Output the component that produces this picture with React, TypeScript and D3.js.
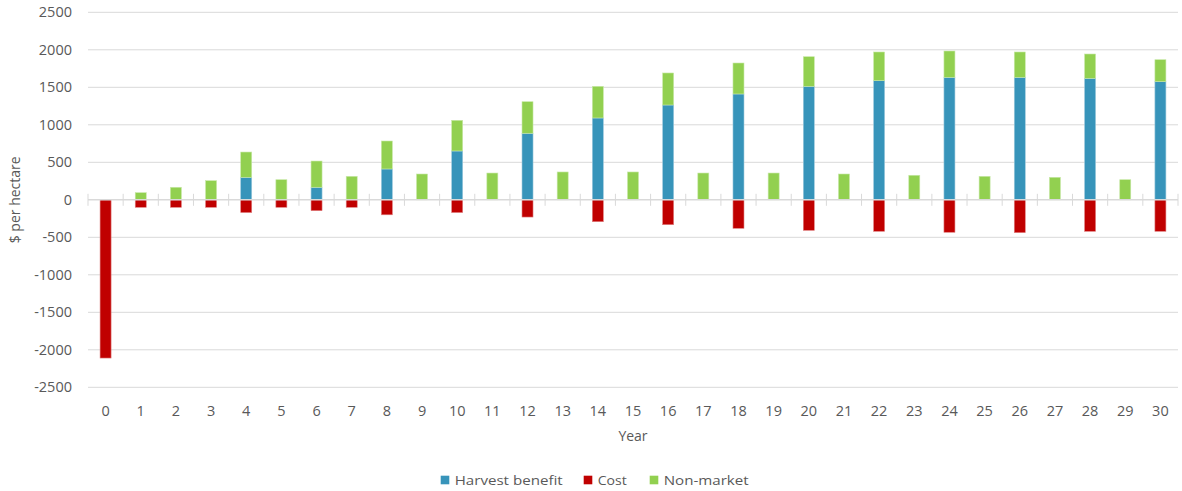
import React from "react";
import * as d3 from "d3";

const years = d3.range(0, 31).map(String);
const harvest = [0, 0, 0, 0, 300, 0, 167, 0, 411, 0, 651, 0, 887, 0, 1091, 0, 1264, 0, 1411, 0, 1513, 0, 1588, 0, 1633, 0, 1633, 0, 1620, 0, 1575];
const nonMarket = [0, 95, 167, 255, 337, 268, 350, 313, 373, 344, 409, 357, 421, 371, 422, 371, 427, 357, 413, 357, 395, 344, 383, 327, 351, 313, 338, 300, 324, 268, 293];
const cost = [-2110, -100, -100, -100, -170, -100, -145, -100, -200, 0, -170, 0, -230, 0, -292, 0, -332, 0, -380, 0, -407, 0, -420, 0, -433, 0, -438, 0, -420, 0, -420];
const yTicks = [-2500, -2000, -1500, -1000, -500, 0, 500, 1000, 1500, 2000, 2500];
const seriesNames = ["Harvest benefit", "Cost", "Non-market"];
const colors = ["#3794BA", "#C00000", "#92D050"];

const W = 1182, H = 491;
const left = 88, right = 1178, top = 12.3, bottom = 387.3;
const font = "'Open Sans', sans-serif";

export default function App() {
  const x = d3.scaleBand<string>().domain(years).range([left, right]).paddingInner(0.687).paddingOuter(0.3435);
  const xb = d3.scaleLinear().domain([0, years.length]).range([left, right]);
  const y = d3.scaleLinear().domain([-2500, 2500]).range([bottom, top]);
  const bw = x.bandwidth();
  const y0 = y(0);

  const legendX = [440.7, 583.7, 649.7];

  return (
    <svg width={W} height={H} style={{ position: "absolute", left: 0, top: 0, background: "#fff" }} fontFamily={font}>
      {yTicks.map((t) => (
        <g key={t}>
          {t !== 0 && <line x1={left} x2={right} y1={y(t)} y2={y(t)} stroke="#D9D9D9" strokeWidth={1} />}
          <text x={72} y={y(t)} dy="0.35em" textAnchor="end" fontSize={14.5} fill="#595959">{t}</text>
        </g>
      ))}
      {years.map((yr, i) => {
        const bx = x(yr)!;
        const h = harvest[i], n = nonMarket[i], c = cost[i];
        return (
          <g key={yr}>
            {h > 0 && <rect x={bx} y={y(h)} width={bw} height={y0 - y(h)} fill={colors[0]} stroke="#9cc9dc" strokeWidth={0.6} />}
            {n > 0 && <rect x={bx} y={y(h + n)} width={bw} height={y(h) - y(h + n)} fill={colors[2]} stroke="#c8e8a8" strokeWidth={0.6} />}
            {c < 0 && <rect x={bx} y={y0} width={bw} height={y(c) - y0} fill={colors[1]} stroke="#e08080" strokeWidth={0.6} />}
          </g>
        );
      })}
      <line x1={left} x2={right} y1={y0} y2={y0} stroke="#D9D9D9" strokeWidth={1.5} />
      {d3.range(0, years.length + 1).map((i) => (
        <line key={i} x1={xb(i)} x2={xb(i)} y1={y0 - 6} y2={y0 + 6} stroke="#D9D9D9" strokeWidth={1} />
      ))}
      {years.map((yr) => (
        <text key={yr} x={x(yr)! + bw / 2} y={411} dy="0.35em" textAnchor="middle" fontSize={14.5} fill="#595959">{yr}</text>
      ))}
      <text x={(left + right) / 2} y={436} dy="0.35em" textAnchor="middle" fontSize={14} fill="#595959">Year</text>
      <text transform={`translate(15,${y0}) rotate(-90)`} dy="0.35em" textAnchor="middle" fontSize={14} fill="#595959">$ per hectare</text>
      {seriesNames.map((s, i) => (
        <g key={s}>
          <rect x={legendX[i]} y={475.7} width={8.6} height={8.6} fill={colors[i]} />
          <text x={legendX[i] + 14} y={480} dy="0.35em" fontSize={13.5} fill="#595959" textLength={[108, 29, 85][i]} lengthAdjust="spacingAndGlyphs">{s}</text>
        </g>
      ))}
    </svg>
  );
}
